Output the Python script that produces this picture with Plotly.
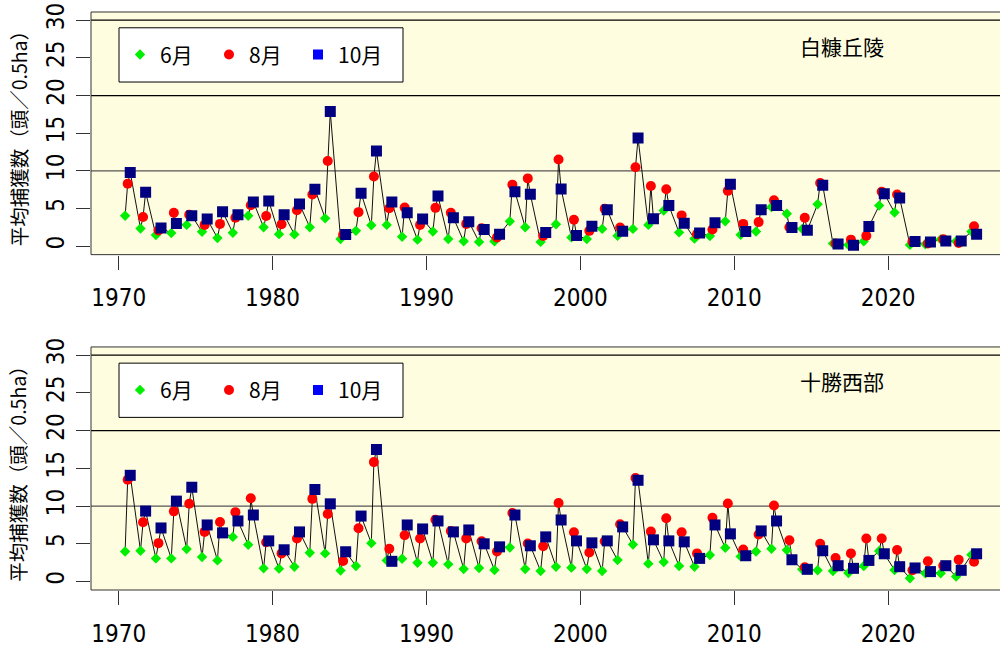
import plotly.graph_objects as go

years = list(range(1970, 2026))
months = ["6月", "8月", "10月"]
month_offset = [5 / 12, 7 / 12, 9 / 12]

# 白糠丘陵
shiranuka_jun = [4.04, 2.35, 1.48, 1.74, 2.83, 1.91, 1.09, 1.78, 4.04, 2.52,
                 1.6, 1.57, 2.52, 3.7, 0.96, 2.04, 2.78, 2.83, 1.26, 0.87,
                 1.96, 0.96, 0.65, 0.57, 0.65, 3.3, 2.52, 0.57, 2.91, 1.17,
                 0.96, 2.3, 1.39, 2.3, 2.83, 4.74, 1.83, 1.0, 1.35, 3.3,
                 1.52, 1.96, 5.2, 4.3, 2.3, 5.57, 0.35, 0.17, 0.65, 5.39,
                 4.48, 0.17, 0.26, 0.91, 0.65, 1.96]
shiranuka_aug = [8.3, 3.87, 2.1, 4.43, 4.17, 2.83, 2.96, 3.78, 5.43, 4.0,
                 2.91, 4.78, 6.87, 11.3, 1.52, 4.52, 9.26, 5.04, 5.13, 2.83,
                 5.09, 4.43, 2.96, 2.39, 1.17, 8.17, 9.0, 1.35, 11.5, 3.52,
                 2.04, 4.96, 2.48, 10.48, 8.0, 7.57, 4.09, 1.6, 2.22, 7.35,
                 2.96, 3.2, 6.09, 2.52, 3.78, 8.4, 0.35, 0.87, 1.39, 7.22,
                 6.87, 0.61, 0.35, 0.91, 0.43, 2.65]
shiranuka_oct = [9.78, 7.17, 2.43, 3.0, 4.04, 3.6, 4.57, 4.17, 5.87, 6.0,
                 4.17, 5.6, 7.57, 17.87, 1.57, 7.04, 12.65, 5.87, 4.43, 3.6,
                 6.65, 3.78, 3.26, 2.22, 1.6, 7.22, 6.9, 1.83, 7.6, 1.43,
                 2.65, 4.83, 2.0, 14.35, 3.65, 5.39, 3.04, 1.74, 3.13, 8.22,
                 1.96, 4.83, 5.39, 2.48, 2.13, 8.09, 0.3, 0.13, 2.6, 6.96,
                 6.39, 0.61, 0.57, 0.7, 0.7, 1.6]

# 十勝西部
tokachi_jun = [3.99, 4.08, 3.07, 3.07, 4.3, 3.25, 2.8, 5.92, 4.87, 1.75,
               1.71, 1.97, 3.82, 3.73, 1.45, 2.06, 5.09, 2.8, 3.03, 2.5,
               2.5, 2.28, 1.67, 1.8, 1.54, 4.52, 1.67, 1.4, 1.97, 1.84,
               1.67, 1.4, 2.85, 4.91, 2.37, 2.59, 2.06, 1.97, 3.51, 4.47,
               3.33, 3.99, 4.34, 4.17, 1.62, 1.49, 1.4, 1.14, 2.06, 4.04,
               1.54, 0.44, 1.1, 1.1, 0.66, 3.55]
tokachi_aug = [13.5, 7.85, 5.09, 9.3, 10.3, 6.58, 7.9, 9.2, 11.05, 5.22,
               3.73, 5.7, 10.96, 8.95, 2.72, 7.06, 15.83, 4.34, 6.14, 5.7,
               8.2, 6.71, 5.7, 5.35, 3.99, 9.08, 5.04, 4.69, 10.4, 6.54,
               3.86, 5.35, 7.59, 13.73, 6.62, 8.38, 6.54, 3.73, 8.46, 10.35,
               4.25, 6.23, 10.09, 5.48, 1.89, 5.0, 3.11, 3.73, 5.7, 5.7,
               4.17, 1.49, 2.68, 2.1, 2.89, 2.63]
tokachi_oct = [14.08, 9.34, 7.1, 10.66, 12.5, 7.5, 6.45, 8.03, 8.82, 5.39,
               4.21, 6.58, 12.2, 10.3, 3.95, 8.68, 17.5, 2.68, 7.5, 6.97,
               8.03, 6.58, 6.84, 5.0, 4.6, 8.82, 4.74, 5.92, 8.16, 5.39,
               5.13, 5.39, 7.24, 13.42, 5.53, 5.39, 5.26, 3.07, 7.5, 6.32,
               3.42, 6.71, 8.03, 2.89, 1.62, 4.08, 2.1, 1.75, 2.8, 3.68,
               1.97, 1.8, 1.32, 2.1, 1.49, 3.68]

panel_names = ["白糠丘陵", "十勝西部"]
panels = [
    [shiranuka_jun, shiranuka_aug, shiranuka_oct],
    [tokachi_jun, tokachi_aug, tokachi_oct],
]
y_ticks = [0, 5, 10, 15, 20, 25, 30]
x_ticks = [1970, 1980, 1990, 2000, 2010, 2020]
ref_lines = [10, 20, 30]

symbols = ["diamond", "circle", "square"]
sizes = [8, 10, 11]
point_colors = ["#00EE00", "#FF0000", "#000080"]
legend_colors = ["#00EE00", "#FF0000", "#0000FF"]
legend_sizes = [8, 10, 10]

W, H = 1000, 648
L, R, T, B = 91, 0, 12, 50
PW, PH = W - L - R, H - T - B


def px_x(px):
    return (px - L) / PW


def px_y(py):
    return 1 - (py - T) / PH


domains = [[px_y(258), 1.0], [0.0, px_y(351.6)]]

fig = go.Figure()
shapes = []
annotations = []

for p, series in enumerate(panels):
    xa = "x" if p == 0 else "x2"
    ya = "y" if p == 0 else "y2"
    lg = "legend" if p == 0 else "legend2"
    # chronological connecting line
    pts = []
    for i, yr in enumerate(years):
        for m in range(3):
            pts.append((yr + month_offset[m], series[m][i]))
    pts.sort()
    fig.add_trace(go.Scatter(x=[a for a, b in pts], y=[b for a, b in pts], mode="lines",
                             line=dict(color="#111111", width=1), xaxis=xa, yaxis=ya,
                             showlegend=False, hoverinfo="skip"))
    for m in range(3):
        fig.add_trace(go.Scatter(
            x=[yr + month_offset[m] for yr in years], y=series[m], mode="markers",
            marker=dict(symbol=symbols[m], size=sizes[m], color=point_colors[m], line=dict(width=0)),
            xaxis=xa, yaxis=ya, showlegend=False, name=months[m]))
    for m in range(3):
        fig.add_trace(go.Scatter(
            x=[None], y=[None], mode="markers", name=months[m],
            marker=dict(symbol=symbols[m], size=legend_sizes[m], color=legend_colors[m], line=dict(width=0)),
            xaxis=xa, yaxis=ya, legend=lg, showlegend=True))
    for v in ref_lines:
        shapes.append(dict(type="line", xref=xa + " domain", yref=ya, x0=0, x1=1, y0=v, y1=v,
                           line=dict(color="#000000" if v != 10 else "#555555", width=1.3),
                           layer="below"))
    d = domains[p]
    shapes.append(dict(type="rect", xref="paper", yref="paper", x0=0, x1=1.05, y0=d[0], y1=d[1],
                       line=dict(color="#333333", width=1), fillcolor="rgba(0,0,0,0)"))
    off = 0 if p == 0 else 340
    # legend box
    shapes.append(dict(type="rect", xref="paper", yref="paper",
                       x0=px_x(119), x1=px_x(403), y0=px_y(83 + off), y1=px_y(28 + off),
                       line=dict(color="#000000", width=1), fillcolor="#FFFFFF"))
    annotations.append(dict(text=panel_names[p], xref="paper", yref="paper",
                            x=px_x(842), y=px_y(46 + off), showarrow=False,
                            xanchor="center", yanchor="middle",
                            font=dict(family="Noto Sans CJK JP", size=21, color="#000000")))
    annotations.append(dict(text="平均捕獲数（頭／0.5ha）", xref="paper", yref="paper",
                            x=px_x(18), y=px_y(136 + off), showarrow=False, textangle=-90,
                            xanchor="center", yanchor="middle",
                            font=dict(family="Noto Sans CJK JP", size=19.5, color="#000000")))

tick_font = dict(family="Liberation Sans Narrow, DejaVu Sans Condensed, Roboto, sans-serif",
                 size=24, color="#000000")
axis_common = dict(showgrid=False, zeroline=False, showline=False, ticks="outside",
                   ticklen=14, tickcolor="#333333", tickwidth=1, tickfont=tick_font)

legend_common = dict(orientation="h", bgcolor="rgba(0,0,0,0)", borderwidth=0,
                     font=dict(family="Noto Sans CJK JP", size=21, color="#000000"),
                     xanchor="left", yanchor="middle", entrywidth=44, entrywidthmode="pixels",
                     itemsizing="trace")

yr_range = [-1.12, 31.09]
x_range = [1968.2, 2027.27]

fig.update_layout(
    width=W, height=H, margin=dict(l=L, r=R, t=T, b=B),
    paper_bgcolor="#FFFFFF", plot_bgcolor="#FFFDDF",
    showlegend=True,
    xaxis=dict(domain=[0, 1], anchor="y", range=x_range, tickvals=x_ticks,
               ticklabelstandoff=8, **axis_common),
    yaxis=dict(domain=domains[0], anchor="x", range=yr_range, tickvals=y_ticks,
               tickangle=-90, ticklabelstandoff=2, **axis_common),
    xaxis2=dict(domain=[0, 1], anchor="y2", range=x_range, tickvals=x_ticks,
                ticklabelstandoff=8, **axis_common),
    yaxis2=dict(domain=domains[1], anchor="x2", range=yr_range, tickvals=y_ticks,
                tickangle=-90, ticklabelstandoff=2, **axis_common),
    legend=dict(x=px_x(120), y=px_y(55.5), **legend_common),
    legend2=dict(x=px_x(120), y=px_y(395.5), **legend_common),
    shapes=shapes,
    annotations=annotations,
)

fig.write_html("out.html", config={"displayModeBar": False},
               post_script="document.body.style.margin='0';document.body.style.overflow='hidden';")
